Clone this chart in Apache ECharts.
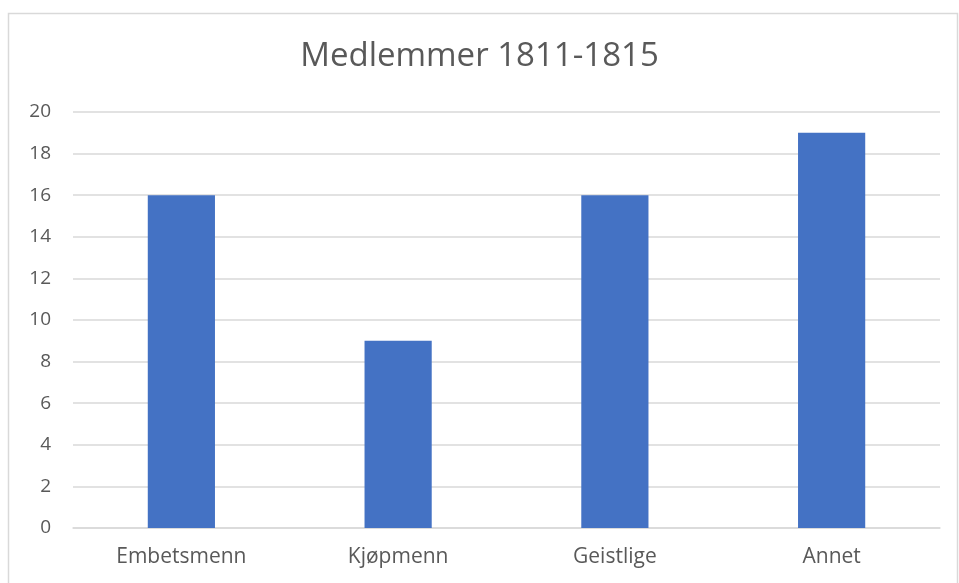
<!DOCTYPE html>
<html>
<head>
<meta charset="utf-8">
<script src="https://cdn.jsdelivr.net/npm/echarts@6/dist/echarts.min.js"></script>
<style>
  html, body { margin: 0; padding: 0; background: #fff; }
  #chart { width: 959px; height: 583px; }
</style>
</head>
<body>
<div id="chart"></div>
<script>
// Medlemmer fordelt på gruppe
const categories = ['Embetsmenn', 'Kjøpmenn', 'Geistlige', 'Annet'];
const members = [16, 9, 16, 19];

const chart = echarts.init(document.getElementById('chart'));

chart.setOption({
    animation: false,
    title: {
        text: 'Medlemmer 1811-1815',
        left: 'center',
        top: 35,
        textStyle: { fontFamily: 'Open Sans', fontSize: 33, fontWeight: 'normal', color: '#595959' }
    },
    graphic: [{
        type: 'rect',
        shape: { x: 8.5, y: 13.5, width: 949, height: 600 },
        style: { fill: 'none', stroke: '#d9d9d9', lineWidth: 1.5 },
        silent: true
    }],
    grid: { left: 73, right: 19, top: 112, bottom: 55 },
    xAxis: {
        type: 'category',
        data: categories,
        axisLine: { lineStyle: { color: '#d9d9d9', width: 1.5 } },
        axisTick: { show: false },
        axisLabel: { fontFamily: 'Open Sans', fontSize: 21, color: '#595959', margin: 19 }
    },
    yAxis: {
        type: 'value',
        min: 0,
        max: 20,
        interval: 2,
        axisLine: { show: false },
        axisTick: { show: false },
        splitLine: { lineStyle: { color: '#d9d9d9', width: 1.5 } },
        axisLabel: { fontFamily: 'Open Sans', fontSize: 19, color: '#595959', margin: 22 }
    },
    series: [{
        type: 'bar',
        data: members,
        barWidth: '31%',
        itemStyle: { color: '#4472c4' }
    }]
});
</script>
</body>
</html>
